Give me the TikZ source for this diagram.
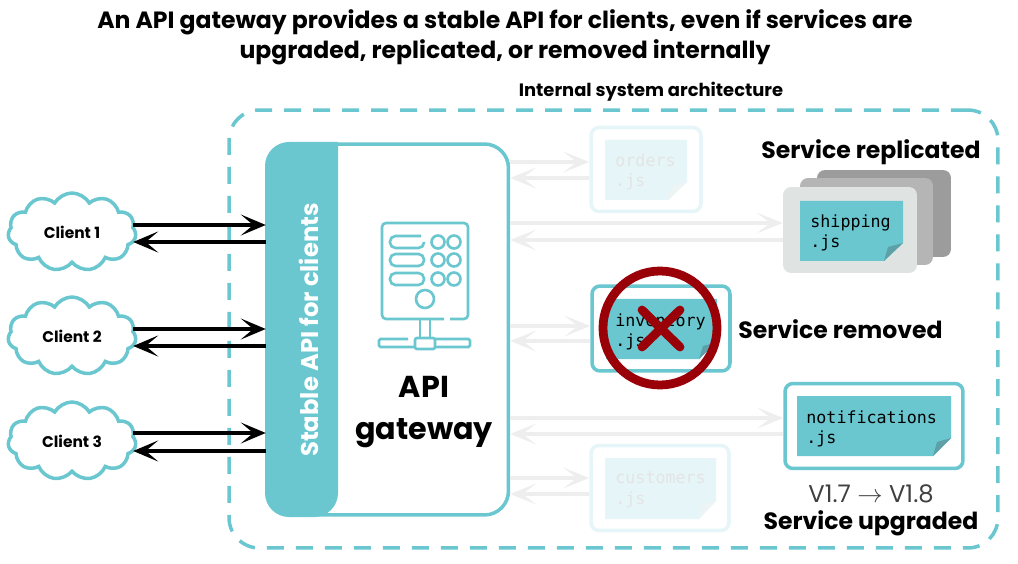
\documentclass[tikz,border=0pt]{standalone}
\usepackage{fontspec}
\setmainfont{Poppins}
\newfontfamily\codefont{DejaVu Sans Mono}
\usetikzlibrary{arrows.meta, shapes.symbols}
\definecolor{tealline}{RGB}{106, 199, 208}
\definecolor{tealfold}{RGB}{94, 160, 167}
\definecolor{tealfaint}{RGB}{230, 245, 247}
\definecolor{foldfaint}{RGB}{238, 244, 244}
\definecolor{arrowgrey}{RGB}{238, 238, 238}
\definecolor{textfaint}{RGB}{228, 228, 228}
\definecolor{copyfront}{RGB}{223, 227, 226}
\definecolor{stopred}{RGB}{153, 0, 8}
\tikzset{
  headlabel/.style={font=\fontsize{13.4}{16}\selectfont\bfseries},
  blackarrow/.style={line width=2pt, -{Stealth[length=.5cm, width=.42cm, inset=.25cm]}},
  greyarrow/.style={arrowgrey, line width=2pt, -{Stealth[length=.52cm, width=.42cm, inset=.27cm]}},
  clientcloud/.style={cloud, cloud puffs=11, cloud puff arc=120, aspect=1.65, draw=tealline, line width=2pt,
    fill=white, minimum width=2.56cm, minimum height=1.56cm, inner sep=0pt, font=\fontsize{8.8}{10}\selectfont\bfseries},
  servicebox/.style={draw=tealline, line width=2pt, rounded corners=.16cm, fill=white},
  fadedbox/.style={servicebox, draw=tealfaint},
  codetext/.style={anchor=west, align=left, inner sep=0pt, font=\codefont\fontsize{9.5}{11.7}\selectfont},
  iconline/.style={draw=tealline, line width=1.5pt},
}

\begin{document}
\begin{tikzpicture}[x=0.02cm, y=-0.02cm]
\useasboundingbox (0,0) rectangle (1018,564);

% ============================================================
% title
% ============================================================
\node[font=\fontsize{13.4}{17}\selectfont\bfseries, align=center] (title) at (505,37)
  {An API gateway provides a stable API for clients, even if services are\\
   upgraded, replicated, or removed internally};
\node[font=\fontsize{10.2}{12}\selectfont\bfseries] (internallabel) at (651,92) {Internal system architecture};

% dashed frame
\node[draw=tealline, line width=2pt, dash pattern=on .34cm off .24cm, rounded corners=.6cm,
  minimum width=15.38cm, minimum height=8.76cm] (internal) at (613.5,329) {};

% ============================================================
% gateway
% ============================================================
\node[draw=tealline, line width=2pt, rounded corners=.48cm, fill=white,
  minimum width=4.82cm, minimum height=7.42cm] (gateway) at (388,329.5) {};
\fill[tealline, rounded corners=.48cm] (338,142) -- (265,142) -- (265,517) -- (338,517) [sharp corners] -- cycle;
\node[white, rotate=90, font=\fontsize{13.8}{16}\selectfont\bfseries] (apilabel) at (309,330) {Stable API for clients};
\node[font=\fontsize{17.2}{24}\selectfont\bfseries, align=center] (gatewaylabel) at (424,412) {API\\gateway};

% server icon
\draw[iconline, rounded corners=.08cm] (450,319) -- (468,319) -- (468,223) -- (382,223) -- (382,319) -- (444,319);
\draw[iconline, rounded corners=.11cm] (421,236) -- (390,236) -- (390,248) -- (424,248) -- (424,242);
\draw[iconline, rounded corners=.11cm] (390,254) rectangle (424,266);
\draw[iconline, rounded corners=.11cm] (390,273) rectangle (424,285);
\draw[iconline] (438,242) circle[radius=6.5];
\draw[iconline] (454,242) circle[radius=6.5];
\draw[iconline] (438,260) circle[radius=6.5];
\draw[iconline] (454,260) circle[radius=6.5];
\draw[iconline] (438,279) circle[radius=6.5];
\draw[iconline] (454,279) circle[radius=6.5];
\draw[iconline] (425,299) circle[radius=9];
\draw[iconline] (420,319) -- (420,338);
\draw[iconline] (430,319) -- (430,338);
\draw[iconline, rounded corners=.03cm] (408,339) -- (379,339) -- (379,347) -- (470,347) -- (470,339) -- (435,339);
\draw[iconline, fill=white, rounded corners=.04cm] (415,338) rectangle (435,349);

% ============================================================
% clients
% ============================================================
\node[clientcloud] (client1) at (72,232) {Client 1};
\node[clientcloud] (client2) at (72,336) {Client 2};
\node[clientcloud] (client3) at (72,441) {Client 3};

\draw[blackarrow] ([xshift=-.08cm, yshift=.14cm]client1.east) -- ([yshift=.14cm]client1.east -| gateway.west);
\draw[blackarrow] ([yshift=-.2cm]client1.east -| gateway.west) -- ([xshift=-.08cm, yshift=-.2cm]client1.east);
\draw[blackarrow] ([xshift=-.08cm, yshift=.14cm]client2.east) -- ([yshift=.14cm]client2.east -| gateway.west);
\draw[blackarrow] ([yshift=-.2cm]client2.east -| gateway.west) -- ([xshift=-.08cm, yshift=-.2cm]client2.east);
\draw[blackarrow] ([xshift=-.08cm, yshift=.16cm]client3.east) -- ([yshift=.16cm]client3.east -| gateway.west);
\draw[blackarrow] ([yshift=-.2cm]client3.east -| gateway.west) -- ([xshift=-.08cm, yshift=-.2cm]client3.east);

% ============================================================
% services
% ============================================================
% orders
\node[fadedbox, minimum width=2.2cm, minimum height=1.68cm] (orders) at (646,169.5) {};
\fill[tealfaint] (605,140) -- (687,140) -- (687,182) -- (668,200) -- (605,200) -- cycle;
\fill[foldfaint] (687,182) -- (668,200) -- (672,186) -- cycle;
\node[codetext, textfaint] (orderstext) at (615,172) {orders\\.js};

% shipping, three copies
\node[fill=black!39, rounded corners=.16cm, minimum width=2.68cm, minimum height=1.74cm] (shipping3) at (884,213.5) {};
\node[fill=black!29, rounded corners=.16cm, minimum width=2.66cm, minimum height=1.74cm] (shipping2) at (866.5,221.5) {};
\node[fill=copyfront, rounded corners=.16cm, minimum width=2.68cm, minimum height=1.72cm] (shipping) at (850,230) {};
\fill[tealline] (800,201) -- (903,201) -- (903,243) -- (884,261) -- (800,261) -- cycle;
\fill[tealfold] (903,243) -- (884,261) -- (888,247) -- cycle;
\node[codetext] (shippingtext) at (810,233) {shipping\\.js};
\node[headlabel] (replicatedlabel) at (871,152.5) {Service replicated};

% inventory
\node[servicebox, minimum width=2.76cm, minimum height=1.7cm] (inventory) at (661,328.5) {};
\fill[tealline] (606,299) -- (717,299) -- (717,342) -- (699,359) -- (606,359) -- cycle;
\fill[tealfold] (717,342) -- (699,359) -- (703,346) -- cycle;
\node[codetext] (inventorytext) at (615,332) {inventory\\.js};
\draw[stopred, line width=5pt] (660,328) circle[radius=57];
\draw[stopred, line width=5pt, line cap=round] (642,310) -- (680,347);
\draw[stopred, line width=5pt, line cap=round] (642,347) -- (680,310);
\node[headlabel, anchor=west, inner sep=0pt] (removedlabel) at (738,329) {Service removed};

% notifications
\node[servicebox, minimum width=3.56cm, minimum height=1.7cm] (notifications) at (874,426) {};
\fill[tealline] (797,396) -- (951,396) -- (951,438) -- (933,456) -- (797,456) -- cycle;
\fill[tealfold] (951,438) -- (933,456) -- (937,442) -- cycle;
\node[codetext] (notificationstext) at (806,429) {notifications\\.js};
\node[font=\fontsize{13.8}{16}\selectfont, text=black!75] (versionlabel) at (871,494) {V1.7 $\rightarrow$ V1.8};
\node[headlabel] (upgradedlabel) at (871,523.5) {Service upgraded};

% customers
\node[fadedbox, minimum width=2.76cm, minimum height=1.7cm] (customers) at (660,488) {};
\fill[tealfaint] (605,458) -- (716,458) -- (716,501) -- (699,519) -- (605,519) -- cycle;
\fill[foldfaint] (716,501) -- (699,519) -- (703,505) -- cycle;
\node[codetext, textfaint] (customerstext) at (615,490) {customers\\.js};

% grey arrows
\draw[greyarrow] ([yshift=.15cm]orders.west -| gateway.east) -- ([yshift=.15cm]orders.west);
\draw[greyarrow] ([yshift=-.17cm]orders.west) -- ([yshift=-.17cm]orders.west -| gateway.east);
\draw[greyarrow] ([yshift=.14cm]shipping.west -| gateway.east) -- ([yshift=.14cm]shipping.west);
\draw[greyarrow] ([yshift=-.2cm]shipping.west) -- ([yshift=-.2cm]shipping.west -| gateway.east);
\draw[greyarrow] ([yshift=.05cm]inventory.west -| gateway.east) -- ([yshift=.05cm]inventory.west);
\draw[greyarrow] ([yshift=-.25cm]inventory.west) -- ([yshift=-.25cm]inventory.west -| gateway.east);
\draw[greyarrow] ([yshift=.16cm]notifications.west -| gateway.east) -- ([yshift=.16cm]notifications.west);
\draw[greyarrow] ([yshift=-.16cm]notifications.west) -- ([yshift=-.16cm]notifications.west -| gateway.east);
\draw[greyarrow] ([yshift=.2cm]customers.west -| gateway.east) -- ([yshift=.2cm]customers.west);
\draw[greyarrow] ([yshift=-.12cm]customers.west) -- ([yshift=-.12cm]customers.west -| gateway.east);

\end{tikzpicture}
\end{document}
